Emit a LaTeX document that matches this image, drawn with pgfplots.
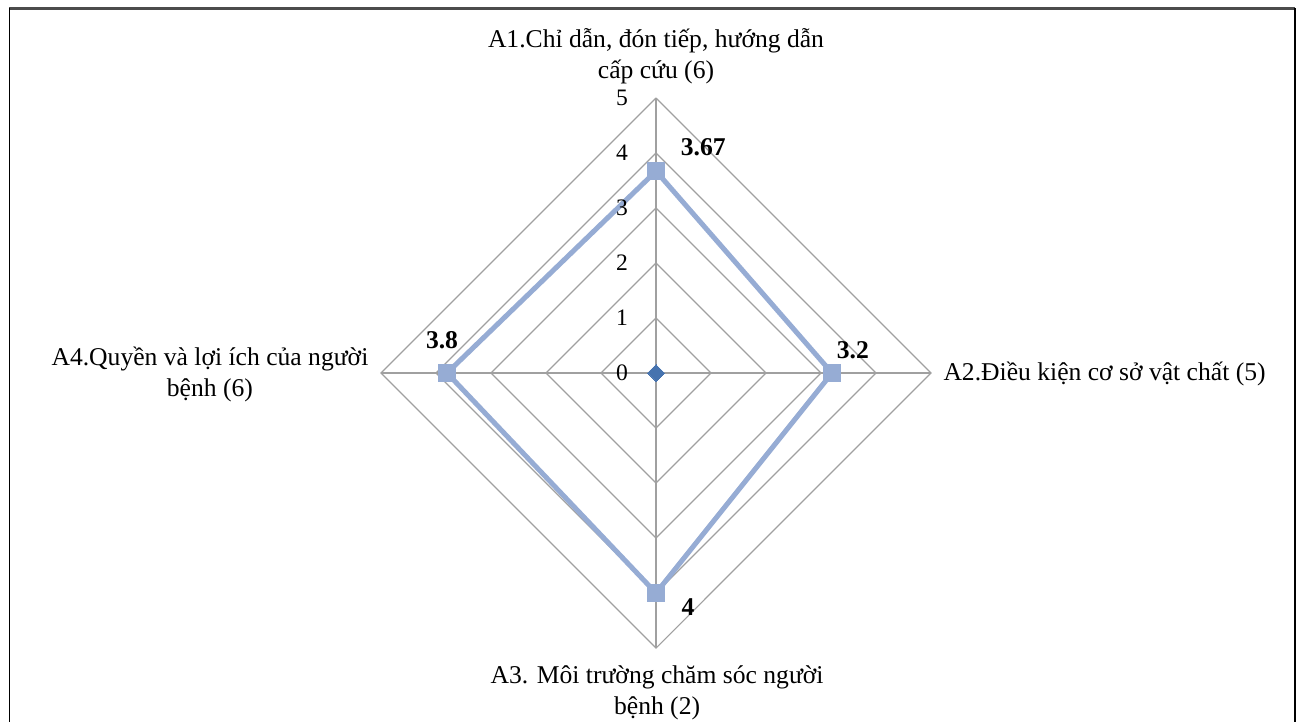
\documentclass[border=0pt]{standalone}
\usepackage{fontspec}
\setmainfont{Liberation Serif}
\usepackage{pgfplots}
\pgfplotsset{compat=1.18}
\definecolor{gridc}{RGB}{160,160,160}
\definecolor{serc}{RGB}{150,172,212}
\definecolor{cenc}{RGB}{70,115,175}
\begin{document}
\begin{tikzpicture}
\begin{axis}[
  scale only axis, width=650pt, height=361pt,
  xmin=-11.927, xmax=11.709, ymin=-6.345, ymax=6.782,
  hide axis, clip=false,
]
% background and frame
\fill[white] (rel axis cs:0,0) rectangle (rel axis cs:1,1);
\draw[black!70, line width=1.1pt] (rel axis cs:0.0073,0.9882) -- (rel axis cs:0.9962,0.9882);
\draw[black, line width=0.9pt] (rel axis cs:0.0073,0.9882) -- (rel axis cs:0.0073,0);
\draw[black, line width=0.9pt] (rel axis cs:0.9962,0.9882) -- (rel axis cs:0.9962,0);
% grid rings
\addplot[gridc, line width=0.55pt, mark=none] coordinates {(0,1) (1,0) (0,-1) (-1,0) (0,1)};
\addplot[gridc, line width=0.55pt, mark=none] coordinates {(0,2) (2,0) (0,-2) (-2,0) (0,2)};
\addplot[gridc, line width=0.55pt, mark=none] coordinates {(0,3) (3,0) (0,-3) (-3,0) (0,3)};
\addplot[gridc, line width=0.55pt, mark=none] coordinates {(0,4) (4,0) (0,-4) (-4,0) (0,4)};
\addplot[gridc, line width=0.55pt, mark=none] coordinates {(0,5) (5,0) (0,-5) (-5,0) (0,5)};
% spokes
\addplot[gridc, line width=0.55pt, mark=none] coordinates {(0,5) (0,-5)};
\addplot[gridc, line width=0.55pt, mark=none] coordinates {(-5,0) (5,0)};
% series
\addplot[serc, line width=2.5pt, mark=square*, mark size=4.2pt, mark options={fill=serc, draw=serc, line width=0pt}]
  coordinates {(0,3.67) (3.2,0) (0,-4) (-3.8,0) (0,3.67)};
% centre marker
\addplot[cenc, mark=square*, mark size=3pt, only marks, mark options={fill=cenc, draw=cenc, rotate=45, line width=0pt}] coordinates {(0,0)};
% tick labels
\begin{scope}[every node/.style={font=\fontsize{11.8}{13}\selectfont, inner sep=0pt}]
\node at (axis cs:-0.62,0) {0};
\node at (axis cs:-0.62,1) {1};
\node at (axis cs:-0.62,2) {2};
\node at (axis cs:-0.62,3) {3};
\node at (axis cs:-0.62,4) {4};
\node at (axis cs:-0.62,5) {5};
\end{scope}
% data labels
\begin{scope}[every node/.style={font=\fontsize{12.8}{15}\selectfont\bfseries, inner sep=0pt}]
\node at (axis cs:0.86,4.11) {3.67};
\node at (axis cs:3.58,0.42) {3.2};
\node at (axis cs:0.58,-4.25) {4};
\node at (axis cs:-3.89,0.6) {3.8};
\end{scope}
% category labels
\begin{scope}[every node/.style={font=\fontsize{12.8}{15.5}\selectfont, inner sep=0pt, align=center}]
\node at (axis cs:0,5.76) {A1.Chỉ dẫn, đón tiếp, hướng dẫn\\cấp cứu (6)};
\node[anchor=west] at (axis cs:5.22,-0.02) {A2.Điều kiện cơ sở vật chất (5)};
\node at (axis cs:0.02,-5.81) {A3. Môi trường chăm sóc người\\bệnh (2)};
\node at (axis cs:-8.11,-0.02) {A4.Quyền và lợi ích của người\\bệnh (6)};
\end{scope}
\end{axis}
\end{tikzpicture}
\end{document}
